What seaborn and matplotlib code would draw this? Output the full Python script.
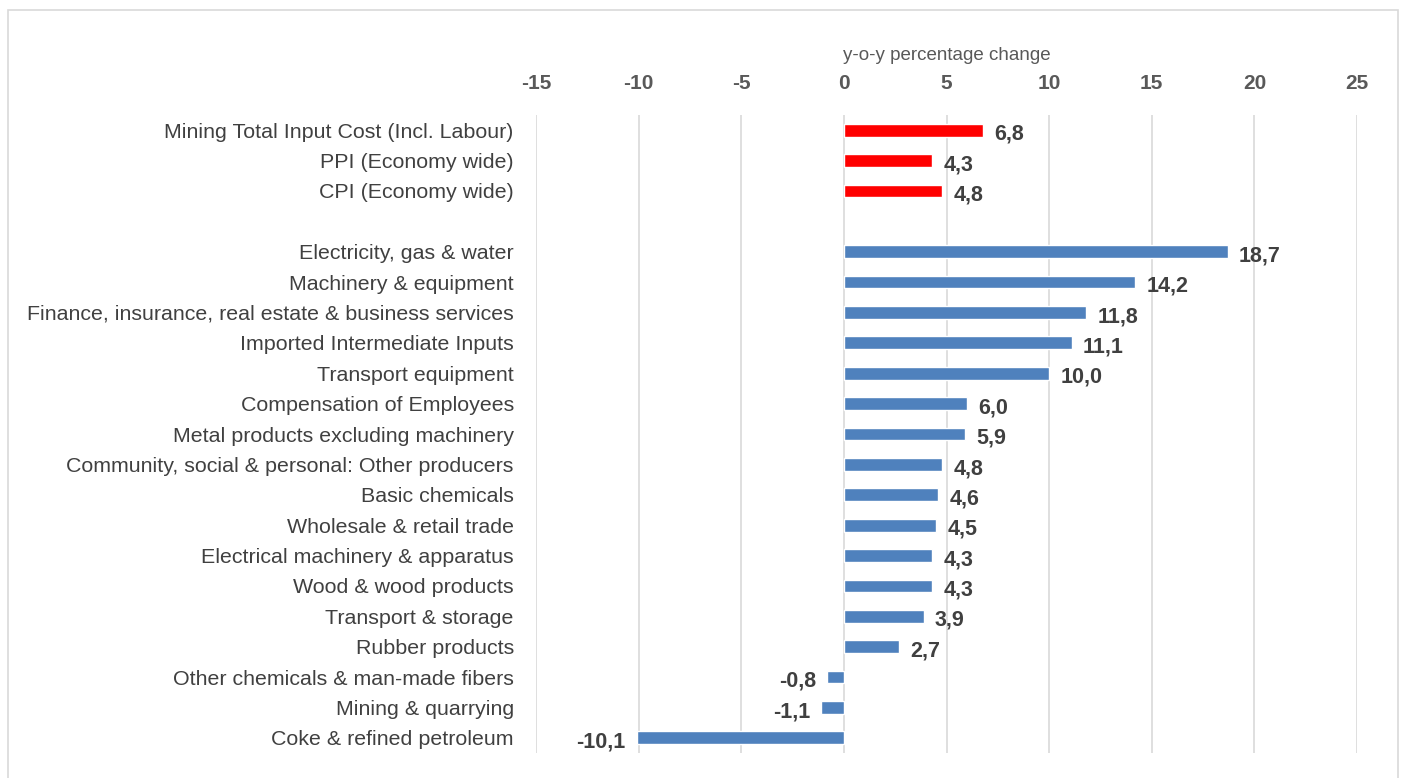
import matplotlib
matplotlib.use("Agg")
import matplotlib.pyplot as plt
import seaborn as sns
import pandas as pd
import numpy as np
from matplotlib.patches import Rectangle

categories = [
    "Mining Total Input Cost (Incl. Labour)",
    "PPI (Economy wide)",
    "CPI (Economy wide)",
    "",
    "Electricity, gas & water",
    "Machinery & equipment",
    "Finance, insurance, real estate & business services",
    "Imported Intermediate Inputs",
    "Transport equipment",
    "Compensation of Employees",
    "Metal products excluding machinery",
    "Community, social & personal: Other producers",
    "Basic chemicals",
    "Wholesale & retail trade",
    "Electrical machinery & apparatus",
    "Wood & wood products",
    "Transport & storage",
    "Rubber products",
    "Other chemicals & man-made fibers",
    "Mining & quarrying",
    "Coke & refined petroleum",
]
values = [6.8, 4.3, 4.8, np.nan, 18.7, 14.2, 11.8, 11.1, 10.0, 6.0, 5.9, 4.8,
          4.6, 4.5, 4.3, 4.3, 3.9, 2.7, -0.8, -1.1, -10.1]
groups = ["headline"] * 3 + ["headline"] + ["component"] * 17
xticks = [-15, -10, -5, 0, 5, 10, 15, 20, 25]
axis_title = "y-o-y percentage change"

df = pd.DataFrame({"category": categories, "value": values, "group": groups})

sns.set_theme(style="white")
plt.rcParams["font.family"] = ["Liberation Sans", "DejaVu Sans"]

fig = plt.figure(figsize=(14.02, 7.78), dpi=100)
ax = fig.add_axes([536 / 1402, 1 - 753 / 778, 821 / 1402, (753 - 115) / 778])

sns.barplot(data=df, x="value", y="category", hue="group", order=categories,
            palette={"headline": "#FF0000", "component": "#4F81BD"}, saturation=1,
            dodge=False, width=0.42, legend=False, ax=ax, orient="h")

ax.set_xlim(-15, 25)
ax.set_ylim(20.5, -0.5)
ax.set_xticks(xticks)
ax.set_xticklabels([str(t) for t in xticks], fontweight="bold", color="#595959", fontsize=15)
ax.xaxis.tick_top()
ax.xaxis.set_label_position("top")
ax.set_xlabel(axis_title, color="#595959", fontsize=13.5, labelpad=10)
ax.set_ylabel("")
ax.tick_params(axis="x", length=0, pad=16)
ax.tick_params(axis="y", length=0, pad=16, labelsize=15.4, labelcolor="#404040")
for s in ax.spines.values():
    s.set_visible(False)
ax.grid(axis="x", color="#D9D9D9", linewidth=1.2)
ax.set_axisbelow(True)

for i, v in enumerate(values):
    if np.isnan(v):
        continue
    txt = f"{v:.1f}".replace(".", ",")
    if v >= 0:
        ax.annotate(txt, (v, i), xytext=(8, -3), textcoords="offset points",
                    ha="left", va="center", fontweight="bold", fontsize=15.5, color="#404040")
    else:
        ax.annotate(txt, (v, i), xytext=(-8, -3), textcoords="offset points",
                    ha="right", va="center", fontweight="bold", fontsize=15.5, color="#404040")

fig.patches.append(Rectangle((8 / 1402, -0.01), (1398 - 8) / 1402, 1 - 10 / 778 + 0.01,
                             transform=fig.transFigure, fill=False,
                             edgecolor="#D9D9D9", linewidth=1.2))

fig.savefig("out.png", dpi=100)
